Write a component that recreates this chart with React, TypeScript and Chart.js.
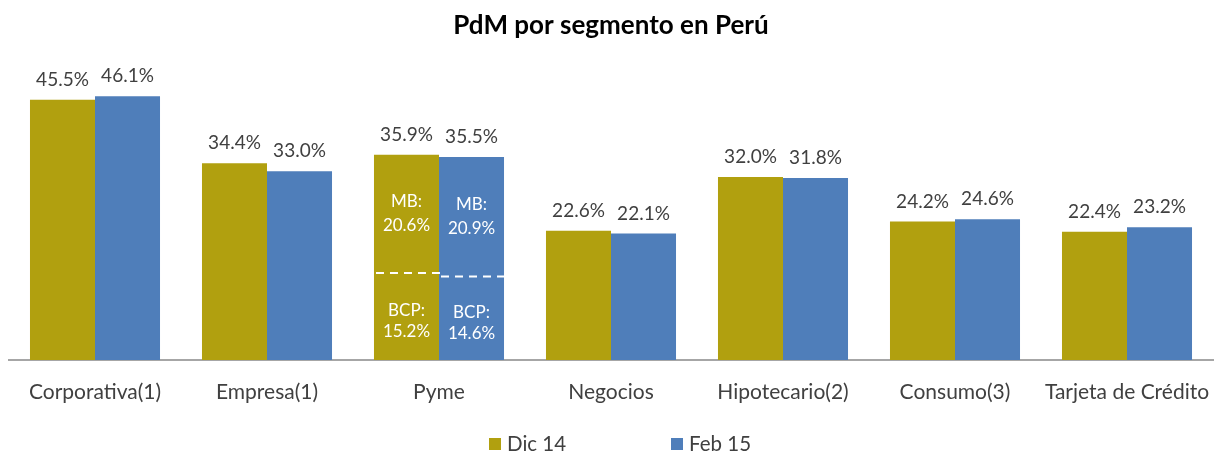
import { useEffect, useRef } from 'react';
import { Chart, registerables } from 'chart.js';

Chart.register(...registerables);

const TITLE = 'PdM por segmento en Perú';
const categories = ['Corporativa(1)', 'Empresa(1)', 'Pyme', 'Negocios', 'Hipotecario(2)', 'Consumo(3)', 'Tarjeta de Crédito'];
const seriesNames = ['Dic 14', 'Feb 15'];
const dic14 = [45.5, 34.4, 35.9, 22.6, 32.0, 24.2, 22.4];
const feb15 = [46.1, 33.0, 35.5, 22.1, 31.8, 24.6, 23.2];
const splitCategory = 'Pyme';
const splitTopLabel = 'MB:';
const splitBottomLabel = 'BCP:';
const pymeMB = [20.6, 20.9];
const pymeBCP = [15.2, 14.6];
const Y_MAX = 50;

const OLIVE = '#B1A00F';
const BLUE = '#4F7EBA';
const TEXT = '#404040';
const FONT = 'Lato, "Open Sans", sans-serif';

const overlayPlugin = {
  id: 'overlay',
  afterDatasetsDraw(chart: any) {
    const ctx = chart.ctx as CanvasRenderingContext2D;
    const yScale = chart.scales.y;
    const area = chart.chartArea;
    const splitIndex = categories.indexOf(splitCategory);
    ctx.save();

    chart.data.datasets.forEach((ds: any, di: number) => {
      const meta = chart.getDatasetMeta(di);
      meta.data.forEach((el: any, i: number) => {
        const p = el.getProps(['x', 'y'], true);
        ctx.fillStyle = TEXT;
        ctx.font = `19px ${FONT}`;
        ctx.textAlign = 'center';
        ctx.textBaseline = 'alphabetic';
        ctx.fillText(`${Number(ds.data[i]).toFixed(1)}%`, p.x, p.y - 14);
      });

      // split annotation inside the Pyme bars
      const el = meta.data[splitIndex];
      if (!el) return;
      const p = el.getProps(['x', 'y', 'width', 'base'], true);
      const splitY = yScale.getPixelForValue(pymeBCP[di]);
      const left = p.x - p.width / 2;
      const right = p.x + p.width / 2;
      ctx.strokeStyle = '#FFFFFF';
      ctx.lineWidth = 2;
      ctx.setLineDash([8, 6]);
      ctx.beginPath();
      ctx.moveTo(left + 2, splitY);
      ctx.lineTo(right + 4, splitY);
      ctx.stroke();
      ctx.setLineDash([]);

      ctx.fillStyle = '#FFFFFF';
      ctx.font = `17px ${FONT}`;
      ctx.textAlign = 'center';
      ctx.textBaseline = 'middle';
      const midTop = (p.y + splitY) / 2;
      const midBottom = (splitY + area.bottom) / 2;
      ctx.fillText(splitTopLabel, p.x, midTop - 12);
      ctx.fillText(`${pymeMB[di].toFixed(1)}%`, p.x, midTop + 12);
      ctx.fillText(splitBottomLabel, p.x, midBottom - 6);
      ctx.fillText(`${pymeBCP[di].toFixed(1)}%`, p.x, midBottom + 15);
    });

    // title
    const cx = (area.left + area.right) / 2;
    ctx.fillStyle = '#000000';
    ctx.font = `bold 26px ${FONT}`;
    ctx.textAlign = 'center';
    ctx.textBaseline = 'middle';
    ctx.fillText(TITLE, cx, 26);

    // legend
    const colors = [OLIVE, BLUE];
    const offsets = [-122, 60];
    ctx.font = `20.5px ${FONT}`;
    ctx.textAlign = 'left';
    ctx.textBaseline = 'middle';
    seriesNames.forEach((name, i) => {
      const x = cx + offsets[i];
      ctx.fillStyle = colors[i];
      ctx.fillRect(x, 438, 12, 12);
      ctx.fillStyle = TEXT;
      ctx.fillText(name, x + 18, 444);
    });

    ctx.restore();
  },
};

export default function App() {
  const ref = useRef<HTMLCanvasElement | null>(null);

  useEffect(() => {
    if (!ref.current) return;
    const chart = new Chart(ref.current, {
      type: 'bar',
      data: {
        labels: categories,
        datasets: [
          { label: seriesNames[0], data: dic14, backgroundColor: OLIVE, borderWidth: 0, categoryPercentage: 0.756, barPercentage: 1 },
          { label: seriesNames[1], data: feb15, backgroundColor: BLUE, borderWidth: 0, categoryPercentage: 0.756, barPercentage: 1 },
        ],
      },
      options: {
        responsive: false,
        animation: false,
        layout: { padding: { top: 74, left: 9, right: 1, bottom: 0 } },
        plugins: {
          legend: { display: false },
          title: { display: false },
          tooltip: { enabled: false },
        },
        scales: {
          x: {
            grid: { display: false, drawTicks: false },
            border: { display: true, color: '#A6A6A6', width: 2 },
            ticks: { color: TEXT, font: { family: FONT, size: 21 }, padding: 20, maxRotation: 0, autoSkip: false },
            afterFit: (scale: any) => {
              scale.height = 94;
              scale.paddingLeft = 0;
              scale.paddingRight = 0;
            },
          },
          y: { display: false, min: 0, max: Y_MAX },
        },
      },
      plugins: [overlayPlugin],
    });
    return () => chart.destroy();
  }, []);

  return (
    <div style={{ position: 'fixed', left: 0, top: 0, width: 1214, height: 454, background: '#FFFFFF' }}>
      <canvas ref={ref} width={1214} height={454} />
    </div>
  );
}
